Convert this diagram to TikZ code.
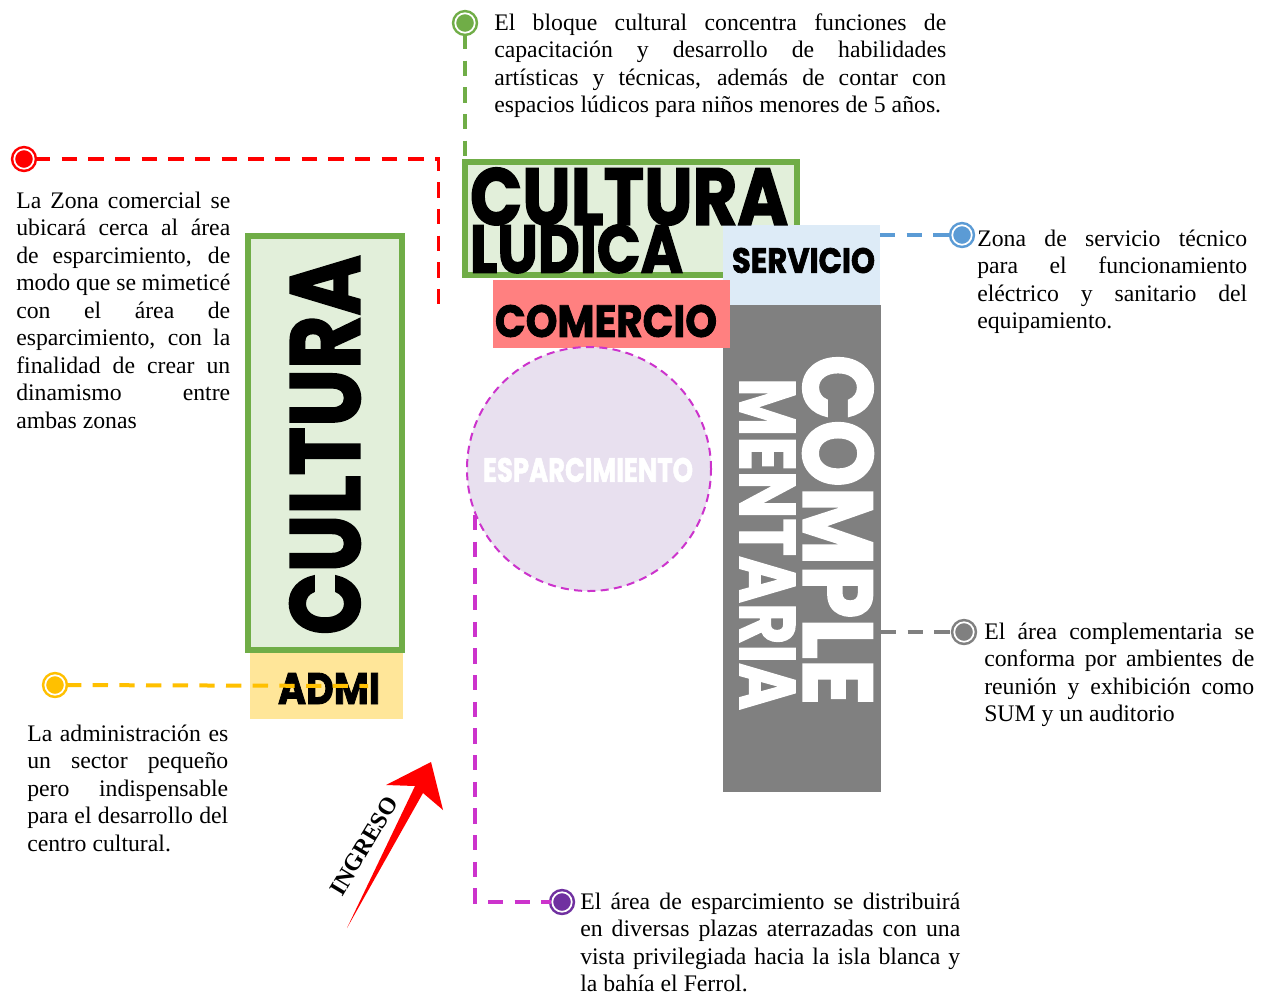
\documentclass[tikz,border=0pt]{standalone}
\usepackage{fontspec}
\usepackage{graphicx}
\setmainfont{Liberation Serif}
\newfontfamily\dispfont{Poppins}[BoldFeatures={FakeBold=2}]
\definecolor{cgreen}{HTML}{70AD47}
\definecolor{lgreen}{HTML}{E2EFDA}
\definecolor{cblue}{HTML}{5B9BD5}
\definecolor{lblue}{HTML}{DDEBF7}
\definecolor{salmon}{HTML}{FF8080}
\definecolor{cgray}{HTML}{808080}
\definecolor{cyellow}{HTML}{FFC000}
\definecolor{lyellow}{HTML}{FFE699}
\definecolor{cmag}{HTML}{CC33CC}
\definecolor{cpurple}{HTML}{7030A0}
\definecolor{lav}{HTML}{E8E0EF}
\definecolor{cred}{HTML}{FF0000}
\tikzset{
  desc/.style={anchor=north west, inner sep=0pt, text width=#1, align=justify,
    font=\fontsize{17.8}{20.6}\selectfont},
  marker/.style={circle, inner sep=0pt, minimum size=14.6pt, fill=#1, draw=#1,
    double=white, double distance=1.3pt, line width=1.9pt},
  conn/.style={draw=#1, line width=2.8pt, dash pattern=on 11.5pt off 8.5pt},
  zone/.style={rectangle, inner sep=0pt, outer sep=0pt, fill=#1},
  greenzone/.style={rectangle, inner sep=0pt, outer sep=0pt, fill=lgreen, draw=cgreen, line width=4.5pt},
  big/.style={inner sep=0pt, outer sep=0pt},
}
\newcommand{\bigword}[3]{\resizebox{#1}{#2}{\dispfont\bfseries #3}}
\begin{document}
\tolerance=10000\relax
\hyphenpenalty=10000\relax
\begin{tikzpicture}[x=0.75pt,y=-0.75pt]
\useasboundingbox[fill=white] (0,0) rectangle (1269,996);

% zones
\node[greenzone, minimum width=249pt, minimum height=84.75pt] (cl) at (631,218.5) {};
\node[zone=lblue, minimum width=117.75pt, minimum height=60pt] (sv) at (801.5,265) {};
\node[zone=cgray, minimum width=118.5pt, minimum height=365.25pt] (cm) at (802,548.5) {};
\node[zone=salmon, minimum width=177.75pt, minimum height=51pt] (co) at (611.5,314) {};
\node[circle, fill=lav, draw=cmag, line width=1.5pt, dash pattern=on 6pt off 4pt,
      minimum size=183pt, inner sep=0pt] (es) at (589,469) {};
\node[greenzone, minimum width=115.5pt, minimum height=310.5pt] (cv) at (325,443) {};
\node[zone=lyellow, minimum width=114.75pt, minimum height=49.5pt] (ad) at (326.5,686) {};

% zone titles
\node[big] (t1) at (629,196.5) {\bigword{238.5pt}{42.75pt}{CULTURA}};
\node[big] (t2) at (576.5,249) {\bigword{159.75pt}{36pt}{LUDICA}};
\node[big] (t3) at (803.5,260.5) {\bigword{107.25pt}{18.75pt}{SERVICIO}};
\node[big] (t4) at (606,321) {\bigword{166.5pt}{24pt}{COMERCIO}};
\node[big, text=white] (t5) at (588,470) {\bigword{157.5pt}{18pt}{ESPARCIMIENTO}};
\node[big, rotate=90] (t6) at (325,445) {\bigword{285pt}{52.5pt}{CULTURA}};
\node[big, text=white, rotate=-90] (t7) at (838,530) {\bigword{262.5pt}{52.5pt}{COMPLE}};
\node[big, text=white, rotate=-90] (t8) at (767.5,544) {\bigword{249pt}{41.25pt}{MENTARIA}};
\node[big] (t9) at (329,688.5) {\bigword{76.5pt}{23.25pt}{ADMI}};

% descriptions
\node[desc=339pt] (dtop) at (494,10.8) {\strut El bloque cultural concentra funciones de\linebreak capacitación y desarrollo de habilidades\linebreak artísticas y técnicas, además de contar con\linebreak espacios lúdicos para niños menores de 5 años.};
\node[desc=160.5pt] (dleft) at (16,188.8) {\strut La Zona comercial se\linebreak ubicará cerca al área\linebreak de esparcimiento, de\linebreak modo que se mimeticé\linebreak con el área de\linebreak esparcimiento, con la\linebreak finalidad de crear un\linebreak dinamismo entre\linebreak ambas zonas};
\node[desc=150.75pt] (dadm) at (27,721.8) {\strut La administración es\linebreak un sector pequeño\linebreak pero indispensable\linebreak para el desarrollo del\linebreak centro cultural.};
\node[desc=202.5pt] (dserv) at (977,226.8) {\strut Zona de servicio técnico\linebreak para el funcionamiento\linebreak eléctrico y sanitario del\linebreak equipamiento.};
\node[desc=202.5pt] (dcomp) at (984,619.8) {\strut El área complementaria se\linebreak conforma por ambientes de\linebreak reunión y exhibición como\linebreak SUM y un auditorio};
\node[desc=285pt] (desp) at (580,889.8) {\strut El área de esparcimiento se distribuirá\linebreak en diversas plazas aterrazadas con una\linebreak vista privilegiada hacia la isla blanca y\linebreak la bahía el Ferrol.};

% markers
\node[marker=cgreen] (mg) at (465,23) {};
\node[marker=cred] (mr) at (24,159) {};
\node[marker=cblue] (mb) at (962,235) {};
\node[marker=cgray] (mgr) at (964,632) {};
\node[marker=cyellow] (my) at (55,685) {};
\node[marker=cpurple] (mp) at (562,902) {};

% connectors
\coordinate (rc) at (438.5,159);
\coordinate (re) at (438.5,308);
\coordinate (ye) at (368,686);
\draw[conn=cgreen, line width=2.4pt] (mg) -- (mg |- cl.north);
\draw[conn=cred] (mr) -- (rc) -- (re);
\draw[conn=cblue, line width=2.5pt] (sv.east |- mb) -- (mb);
\draw[conn=cgray, line width=2.5pt] (cm.east |- mgr) -- (mgr);
\draw[conn=cyellow, line width=3pt] (my) -- (ye);
\draw[conn=cmag, line width=2.5pt] (es.202) |- (mp);

% entrance arrow
\fill[cred] (347,928) -- (415,786) -- (386,785) -- (431,762) -- (443,810) -- (423,793) -- cycle;
\node[rotate=59, inner sep=0pt, font=\bfseries\fontsize{18}{20}\selectfont] (ing) at (364,846) {INGRESO};
\end{tikzpicture}
\end{document}
